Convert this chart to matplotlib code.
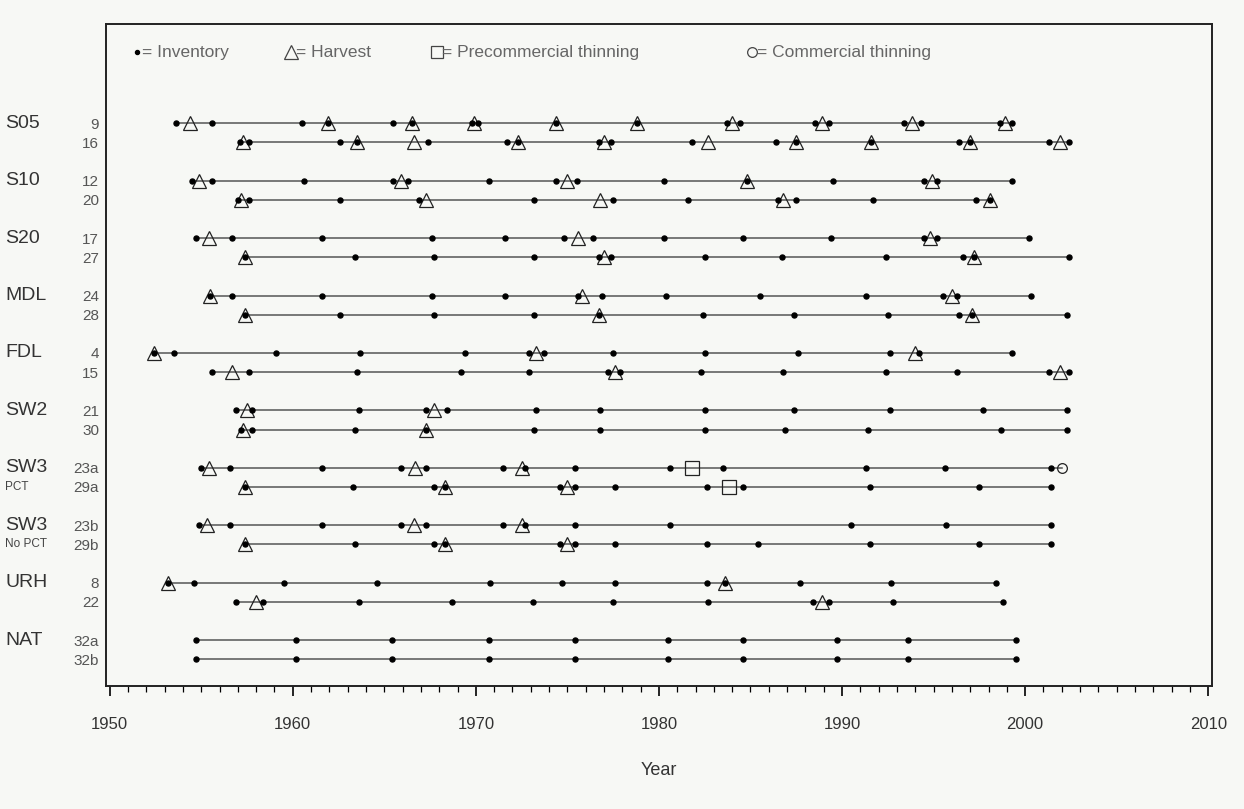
import matplotlib
matplotlib.use("Agg")
import matplotlib.pyplot as plt
from matplotlib.ticker import MultipleLocator

plt.rcParams['font.family'] = ['Liberation Sans', 'DejaVu Sans']

# stand groups (two plots each)
groups = ["S05", "S10", "S20", "MDL", "FDL", "SW2", "SW3", "SW3", "URH", "NAT"]
group_notes = ["", "", "", "", "", "", "PCT", "No PCT", "", ""]
plots = ["9", "16", "12", "20", "17", "27", "24", "28", "4", "15",
         "21", "30", "23a", "29a", "23b", "29b", "8", "22", "32a", "32b"]

# event years per plot
inventory = [
    [1953.6, 1955.6, 1960.5, 1961.9, 1965.5, 1966.5, 1969.8, 1970.1, 1974.4, 1978.8,
     1983.7, 1984.4, 1988.5, 1989.3, 1993.4, 1994.3, 1998.6, 1999.3],
    [1957.1, 1957.6, 1962.6, 1963.5, 1967.4, 1971.7, 1972.3, 1976.7, 1977.4, 1981.8,
     1986.4, 1987.5, 1991.6, 1996.4, 1997.0, 2001.3, 2002.4],
    [1954.5, 1955.6, 1960.6, 1965.5, 1966.3, 1970.7, 1974.4, 1975.5, 1980.3, 1984.8,
     1989.5, 1994.5, 1995.2, 1999.3],
    [1957.0, 1957.6, 1962.6, 1966.9, 1973.2, 1977.5, 1981.6, 1986.5, 1987.5, 1991.7,
     1997.3, 1998.1],
    [1954.7, 1956.7, 1961.6, 1967.6, 1971.6, 1974.8, 1976.4, 1980.3, 1984.6, 1989.4,
     1994.5, 1995.2, 2000.2],
    [1957.4, 1963.4, 1967.7, 1973.2, 1976.7, 1977.4, 1982.5, 1986.7, 1992.4, 1996.6,
     1997.2, 2002.4],
    [1955.5, 1956.7, 1961.6, 1967.6, 1971.6, 1975.6, 1976.9, 1980.4, 1985.5, 1991.3,
     1995.5, 1996.3, 2000.3],
    [1957.4, 1962.6, 1967.7, 1973.2, 1976.7, 1982.4, 1987.4, 1992.5, 1996.4, 1997.1,
     2002.3],
    [1952.4, 1953.5, 1959.1, 1963.7, 1969.4, 1972.9, 1973.7, 1977.5, 1982.5, 1987.6,
     1992.6, 1994.2, 1999.3],
    [1955.6, 1957.6, 1963.5, 1969.2, 1972.9, 1977.2, 1977.9, 1982.3, 1986.8, 1992.4,
     1996.3, 2001.3, 2002.4],
    [1956.9, 1957.8, 1963.6, 1967.3, 1968.4, 1973.3, 1976.8, 1982.5, 1987.4, 1992.6,
     1997.7, 2002.3],
    [1957.2, 1957.8, 1963.4, 1967.3, 1973.2, 1976.8, 1982.5, 1986.9, 1991.4, 1998.7,
     2002.3],
    [1955.0, 1956.6, 1961.6, 1965.9, 1967.3, 1971.5, 1972.7, 1975.4, 1980.6, 1983.5,
     1991.3, 1995.6, 2001.4],
    [1957.4, 1963.3, 1967.7, 1968.3, 1974.6, 1975.4, 1977.6, 1982.6, 1984.6, 1991.5,
     1997.5, 2001.4],
    [1954.9, 1956.6, 1961.6, 1965.9, 1967.3, 1971.5, 1972.7, 1975.4, 1980.6, 1990.5,
     1995.7, 2001.4],
    [1957.4, 1963.4, 1967.7, 1968.3, 1974.6, 1975.4, 1977.6, 1982.6, 1985.4, 1991.5,
     1997.5, 2001.4],
    [1953.2, 1954.6, 1959.5, 1964.6, 1970.8, 1974.7, 1977.6, 1982.6, 1983.6, 1987.7,
     1992.7, 1998.4],
    [1956.9, 1958.4, 1963.6, 1968.7, 1973.1, 1977.5, 1982.7, 1988.4, 1989.3, 1992.8,
     1998.8],
    [1954.7, 1960.2, 1965.4, 1970.7, 1975.4, 1980.5, 1984.6, 1989.7, 1993.6, 1999.5],
    [1954.7, 1960.2, 1965.4, 1970.7, 1975.4, 1980.5, 1984.6, 1989.7, 1993.6, 1999.5],
]

harvest = [
    [1954.4, 1961.9, 1966.5, 1969.9, 1974.4, 1978.8, 1984.0, 1988.9, 1993.8, 1998.9],
    [1957.3, 1963.5, 1966.6, 1972.3, 1977.0, 1982.7, 1987.5, 1991.6, 1997.0, 2001.9],
    [1954.9, 1965.9, 1975.0, 1984.8, 1994.9],
    [1957.2, 1967.3, 1976.8, 1986.8, 1998.1],
    [1955.4, 1975.6, 1994.8],
    [1957.4, 1977.0, 1997.2],
    [1955.5, 1975.8, 1996.0],
    [1957.4, 1976.7, 1997.1],
    [1952.4, 1973.3, 1994.0],
    [1956.7, 1977.6, 2001.9],
    [1957.5, 1967.7],
    [1957.3, 1967.3],
    [1955.4, 1966.7, 1972.5],
    [1957.4, 1968.3, 1975.0],
    [1955.3, 1966.6, 1972.5],
    [1957.4, 1968.3, 1975.0],
    [1953.2, 1983.6],
    [1958.0, 1988.9],
    [],
    [],
]

pct = [[] for _ in plots]
pct[12] = [1981.8]
pct[13] = [1983.8]

ct = [[] for _ in plots]
ct[12] = [2002.0]

legend_labels = ["= Inventory", "= Harvest", "= Precommercial thinning",
                 "= Commercial thinning"]

fig = plt.figure(figsize=(12.44, 8.09), dpi=100, facecolor="#f7f8f5")
ax = fig.add_axes([0.0852, 0.152, 0.889, 0.818])
ax.set_facecolor("#f7f8f5")

open_style = dict(ls="none", mfc="none", mec="#222222", mew=0.9)

ypos = []
for i, name in enumerate(plots):
    y = -(i // 2) * 3 - (i % 2)
    ypos.append(y)
    events = inventory[i] + harvest[i] + pct[i] + ct[i]
    ax.plot([min(events), max(events)], [y, y], color="#555555", lw=1.1, zorder=1)
    ax.plot(inventory[i], [y] * len(inventory[i]), ls="none", marker="o",
            ms=3.6, color="black", zorder=3)
    if harvest[i]:
        ax.plot(harvest[i], [y] * len(harvest[i]), marker="^", ms=10.5, zorder=2,
                **open_style)
    if pct[i]:
        ax.plot(pct[i], [y] * len(pct[i]), marker="s", ms=9.5, zorder=2, **open_style)
    if ct[i]:
        ax.plot(ct[i], [y] * len(ct[i]), marker="o", ms=7, zorder=2, **open_style)

# group names left of the plot numbers
ytrans = ax.get_yaxis_transform()
for g, name in enumerate(groups):
    ax.text(-0.0913, -g * 3, name, transform=ytrans, ha="left", va="center",
            fontsize=14, color="#333333")
    if group_notes[g]:
        ax.text(-0.0913, -g * 3 - 1, group_notes[g], transform=ytrans, ha="left",
                va="center", fontsize=8.5, color="#444444")

ax.set_yticks(ypos)
ax.set_yticklabels(plots, fontsize=11, color="#555555")
ax.tick_params(axis="y", length=0, pad=5)

ax.set_xlim(1949.8, 2010.2)
ax.set_ylim(-29.4, 5.17)
ax.xaxis.set_major_locator(MultipleLocator(10))
ax.xaxis.set_minor_locator(MultipleLocator(1))
ax.tick_params(axis="x", which="major", length=7, width=1.2, pad=15,
               labelsize=12, labelcolor="#333333")
ax.tick_params(axis="x", which="minor", length=4, width=0.9)
ax.set_xlabel("Year", fontsize=13, color="#333333", labelpad=22)

for sp in ax.spines.values():
    sp.set_linewidth(1.4)
    sp.set_color("#222222")

# key across the top of the panel
key_markers = [("o", 3, "black"), ("^", 10, "none"), ("s", 9, "none"), ("o", 7, "none")]
key_x = [0.028, 0.167, 0.299, 0.584]
key_y = 0.958
for (mk, ms, fc), kx, lab in zip(key_markers, key_x, legend_labels):
    ax.plot([kx], [key_y], transform=ax.transAxes, marker=mk, ms=ms, mfc=fc,
            mec="#444444" if fc == "none" else "black", mew=0.9, ls="none",
            clip_on=False)
    ax.text(kx + 0.005, key_y, lab, transform=ax.transAxes, ha="left", va="center",
            fontsize=12.5, color="#666666")

fig.savefig("out.png", dpi=100, facecolor=fig.get_facecolor())
